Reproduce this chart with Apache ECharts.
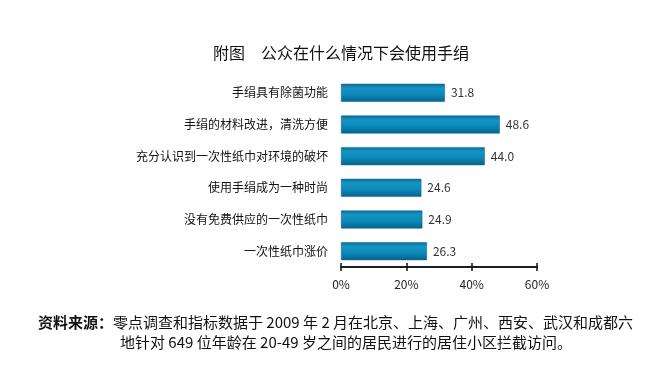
<!DOCTYPE html>
<html>
<head>
<meta charset="utf-8">
<script src="https://cdn.jsdelivr.net/npm/echarts@6/dist/echarts.min.js"></script>
<style>
html,body{margin:0;padding:0;background:#fff;}
#c{width:646px;height:384px;}
</style>
</head>
<body>
<div id="c"></div>
<script>
var categories = ['手绢具有除菌功能', '手绢的材料改进，清洗方便', '充分认识到一次性纸巾对环境的破坏', '使用手绢成为一种时尚', '没有免费供应的一次性纸巾', '一次性纸巾涨价'];
var values = [31.8, 48.6, 44.0, 24.6, 24.9, 26.3];
var tickLabels = ['0%', '20%', '40%', '60%'];
var titleText = '附图　公众在什么情况下会使用手绢';
var sourceLabel = '资料来源：';
var sourceLine1 = '零点调查和指标数据于 2009 年 2 月在北京、上海、广州、西安、武汉和成都六';
var sourceLine2 = '地针对 649 位年龄在 20-49 岁之间的居民进行的居住小区拦截访问。';

var chart = echarts.init(document.getElementById('c'), null, {renderer: 'canvas'});
var font = '"Noto Sans CJK SC", "Noto Sans", sans-serif';
var barColor = new echarts.graphic.LinearGradient(0, 0, 0, 1, [
  {offset: 0, color: '#0b6d98'},
  {offset: 0.25, color: '#1595c6'},
  {offset: 0.6, color: '#0b88b8'},
  {offset: 1, color: '#06638c'}
]);
var xBase = {
  type: 'value', min: 0, max: 60, interval: 20, position: 'bottom',
  splitLine: {show: false},
  axisLine: {show: true, lineStyle: {color: '#111', width: 1.5}}
};
chart.setOption({
  backgroundColor: '#fff',
  animation: false,
  title: {
    text: titleText, left: 336, textAlign: 'center', top: 40,
    textStyle: {fontFamily: font, fontSize: 16, fontWeight: 'normal', color: '#111'}
  },
  grid: {left: 341, right: 109, top: 77, bottom: 117, containLabel: false},
  xAxis: [
    Object.assign({}, xBase, {
      axisTick: {show: true, length: 4, lineStyle: {color: '#111', width: 1.5}},
      axisLabel: {
        margin: 11, fontFamily: font, fontSize: 12, color: '#222',
        formatter: function (v) { return tickLabels[Math.round(v / 20)]; }
      }
    }),
    Object.assign({}, xBase, {
      axisTick: {show: true, inside: true, length: 4, lineStyle: {color: '#111', width: 1.5}},
      axisLabel: {show: false}
    })
  ],
  yAxis: {
    type: 'category', data: categories, inverse: true,
    axisLine: {show: false}, axisTick: {show: false},
    axisLabel: {margin: 13, fontFamily: font, fontSize: 12, color: '#111'}
  },
  series: [{
    type: 'bar', data: values, barWidth: 18, xAxisIndex: 0,
    itemStyle: {color: barColor, borderColor: '#0a5f86', borderWidth: 0.5},
    label: {
      show: true, position: 'right', distance: 6,
      fontFamily: font, fontSize: 12, color: '#333',
      formatter: function (p) { return p.value.toFixed(1); }
    }
  }],
  graphic: [
    {type: 'text', left: 38, top: 315, style: {
      rich: {b: {fontFamily: font, fontSize: 15, fontWeight: 'bold', fill: '#111'},
             n: {fontFamily: font, fontSize: 15, fill: '#111'}},
      text: '{b|' + sourceLabel + '}{n|' + sourceLine1 + '}'
    }},
    {type: 'text', left: 120, top: 335, style: {
      text: sourceLine2, fontFamily: font, fontSize: 15, fill: '#111'
    }}
  ]
});
</script>
</body>
</html>
